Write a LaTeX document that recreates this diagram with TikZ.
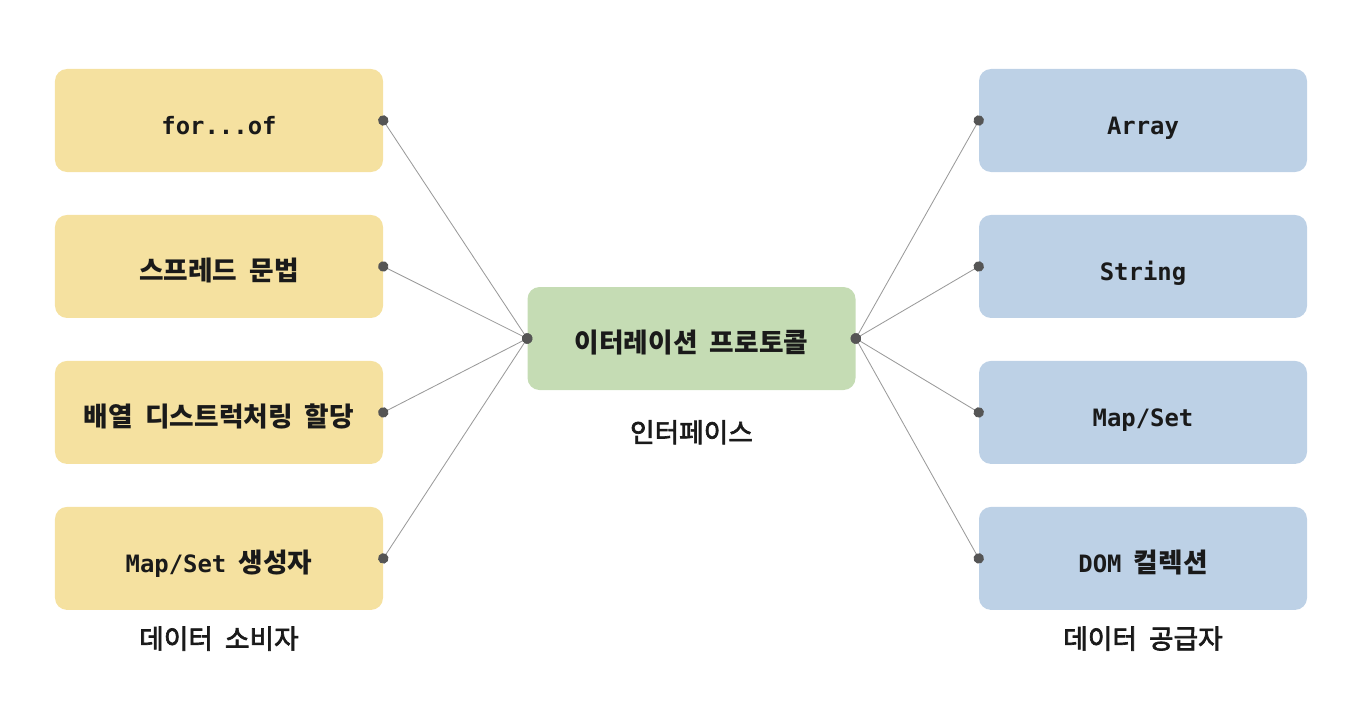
\documentclass[tikz,border=0pt]{standalone}
\usepackage{fontspec}
\setmainfont{Noto Sans CJK KR}[WordSpace=2]
\setmonofont{DejaVu Sans Mono}
\newfontfamily\krlabel{Noto Sans CJK KR}[FakeBold=2.5,WordSpace=2]
\newcommand{\code}[1]{{\ttfamily\fontsize{17}{20}\selectfont #1}}
\usetikzlibrary{positioning,arrows.meta}
\definecolor{UseYellow}{HTML}{F5E1A0}
\definecolor{ProtoGreen}{HTML}{C5DCB4}
\definecolor{GiveBlue}{HTML}{BDD1E6}
\definecolor{DotGray}{HTML}{555555}
\definecolor{LinkGray}{HTML}{9A9A9A}
\definecolor{InkDark}{HTML}{1A1A1A}

\begin{document}
\begin{tikzpicture}[
  x=0.25mm, y=-0.25mm,
  node distance=10.6mm and 36mm,
  card/.style={rounded corners=3mm, minimum width=82mm, minimum height=25.75mm, text height=7.6mm, text depth=0.4mm, align=center, text=InkDark, font=\bfseries\fontsize{19}{22}\selectfont},
  consumer/.style={card, fill=UseYellow},
  provider/.style={card, fill=GiveBlue},
  iface/.style={card, fill=ProtoGreen},
  caption/.style={inner sep=0pt, text=InkDark, font=\krlabel\fontsize{19}{22}\selectfont},
  link/.style={{Circle[length=2.6mm,color=DotGray]}-{Circle[length=2.6mm,color=DotGray]}, shorten <=-1.3mm, shorten >=-1.3mm, draw=LinkGray, line width=0.6pt},
]
\useasboundingbox (0,0) rectangle (1372,716);
% consumers
\node[consumer] (forof) at (219,120.5) {\code{for...of}};
\node[consumer, below=of forof] (spread) {스프레드 문법};
\node[consumer, below=of spread] (destruct) {배열 디스트럭처링 할당};
\node[consumer, below=of destruct] (ctor) {\code{Map/Set} 생성자};
\node[caption, below=4mm of ctor] (consumerlbl) {데이터 소비자};
% protocol
\node[iface] (proto) at (691.5,338.5) {이터레이션 프로토콜};
\node[caption, below=7.4mm of proto] (ifacelbl) {인터페이스};
% providers
\node[provider] (array) at (1143,120.5) {\code{Array}};
\node[provider, below=of array] (string) {\code{String}};
\node[provider, below=of string] (mapset) {\code{Map/Set}};
\node[provider, below=of mapset] (domcoll) {\code{DOM} 컬렉션};
\node[caption, below=4mm of domcoll] (providerlbl) {데이터 공급자};
% links
\draw[link] (forof.east) -- (proto.west);
\draw[link] (spread.east) -- (proto.west);
\draw[link] (destruct.east) -- (proto.west);
\draw[link] (ctor.east) -- (proto.west);
\draw[link] (array.west) -- (proto.east);
\draw[link] (string.west) -- (proto.east);
\draw[link] (mapset.west) -- (proto.east);
\draw[link] (domcoll.west) -- (proto.east);
\end{tikzpicture}
\end{document}
